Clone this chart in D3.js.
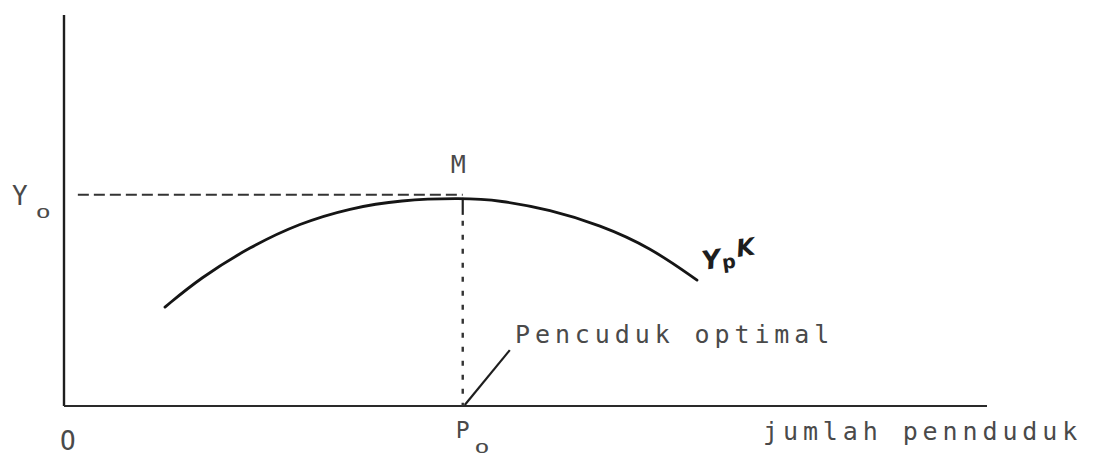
<!DOCTYPE html>
<html>
<head>
<meta charset="utf-8">
<script src="https://cdn.jsdelivr.net/npm/d3@7"></script>
<style>
  html, body { margin: 0; padding: 0; background: #fff; }
  svg { display: block; }
  .mono { font-family: "DejaVu Sans Mono", "Liberation Mono", monospace; fill: #4a4a4a; }
</style>
</head>
<body>
<svg id="chart" width="1097" height="455"></svg>
<script>
// ---- data (population units 0..100, income units 0..100) ----
const curvePopulation = [10.94, 14.73, 20.15, 25.57, 30.99, 36.40, 43.12, 47.24, 52.65, 58.07, 63.49, 68.58];
const curveIncome     = [25.3, 32.7, 40.7, 46.8, 50.6, 52.7, 53.2, 52.6, 50.2, 46.3, 40.6, 32.2];
const optimumPopulation = [43.2];   // P0
const optimumIncome = [54.0];       // Y0
const axisLabels = ["O", "jumlah pennduduk"];
const pointLabels = ["Y", "O", "M", "P", "O", "Pencuduk optimal"];
const curveLabel = ["Y", "p", "K"];

const svg = d3.select("#chart");
const x = d3.scaleLinear().domain([0, 100]).range([64, 987]);
const y = d3.scaleLinear().domain([0, 100]).range([406, 15]);

const P0 = optimumPopulation[0], Y0 = optimumIncome[0];

// axes
svg.append("line").attr("x1", x(0)).attr("y1", y(0)).attr("x2", x(0)).attr("y2", y(100))
  .attr("stroke", "#1e1e1e").attr("stroke-width", 2.4);
svg.append("line").attr("x1", x(0)).attr("y1", y(0)).attr("x2", x(100)).attr("y2", y(0))
  .attr("stroke", "#2a2a2a").attr("stroke-width", 2.2);

// dashed horizontal Y0 guide
svg.append("line").attr("x1", x(1.5)).attr("y1", y(Y0)).attr("x2", x(P0)).attr("y2", y(Y0))
  .attr("stroke", "#333").attr("stroke-width", 2).attr("stroke-dasharray", "11,5");

// vertical P0 guide: solid stub under the curve, then dotted
svg.append("line").attr("x1", x(P0)).attr("y1", y(Y0) + 3).attr("x2", x(P0)).attr("y2", y(Y0) + 20)
  .attr("stroke", "#222").attr("stroke-width", 2.2);
svg.append("line").attr("x1", x(P0)).attr("y1", y(Y0) + 26).attr("x2", x(P0)).attr("y2", y(0))
  .attr("stroke", "#333").attr("stroke-width", 2.4).attr("stroke-dasharray", "5,9");

// curve
const pts = curvePopulation.map((p, i) => [p, curveIncome[i]]);
svg.append("path").datum(pts)
  .attr("d", d3.line().x(d => x(d[0])).y(d => y(d[1])).curve(d3.curveBasis))
  .attr("fill", "none").attr("stroke", "#151515").attr("stroke-width", 2.8).attr("stroke-linecap", "round");

// pointer line to label
svg.append("line").attr("x1", x(P0) + 2).attr("y1", y(0) - 1).attr("x2", x(48.3)).attr("y2", y(14.3))
  .attr("stroke", "#1e1e1e").attr("stroke-width", 2.2);

// labels
const mono = (t, px, py, size, ls) => svg.append("text").attr("class", "mono")
  .attr("x", px).attr("y", py).attr("font-size", size).attr("letter-spacing", ls || 0).text(t);
const sub = (t, px, py) => svg.append("text").attr("class", "mono")
  .attr("transform", `translate(${px},${py}) scale(1.6,0.9)`)
  .attr("font-size", 15).text(t);

mono(pointLabels[0], 12, 205, 26);
sub(pointLabels[1], 36, 218);
mono(pointLabels[2], x(P0) - 12, 173, 25);
mono(pointLabels[3], x(P0) - 7, 438, 23);
sub(pointLabels[4], x(P0) + 12, 453);
mono(pointLabels[5], 515, 343, 25, 4.9);
mono(axisLabels[0], 60, 450, 26);
mono(axisLabels[1], 763, 440, 25, 4.9);

// handwritten curve label
const hw = svg.append("g").attr("transform", "translate(703,270) rotate(-8)");
hw.append("text").attr("x", 0).attr("y", 0).attr("font-family", "DejaVu Sans").attr("font-style", "italic")
  .attr("font-weight", "bold").attr("font-size", 26).attr("fill", "#1e1e1e").text(curveLabel[0]);
hw.append("text").attr("x", 20).attr("y", 2).attr("font-family", "DejaVu Sans")
  .attr("font-weight", "bold").attr("font-size", 19).attr("fill", "#1e1e1e").text(curveLabel[1]);
hw.append("text").attr("x", 36).attr("y", -8).attr("font-family", "DejaVu Sans").attr("font-style", "italic")
  .attr("font-weight", "bold").attr("font-size", 24).attr("fill", "#1e1e1e").text(curveLabel[2]);
</script>
</body>
</html>
